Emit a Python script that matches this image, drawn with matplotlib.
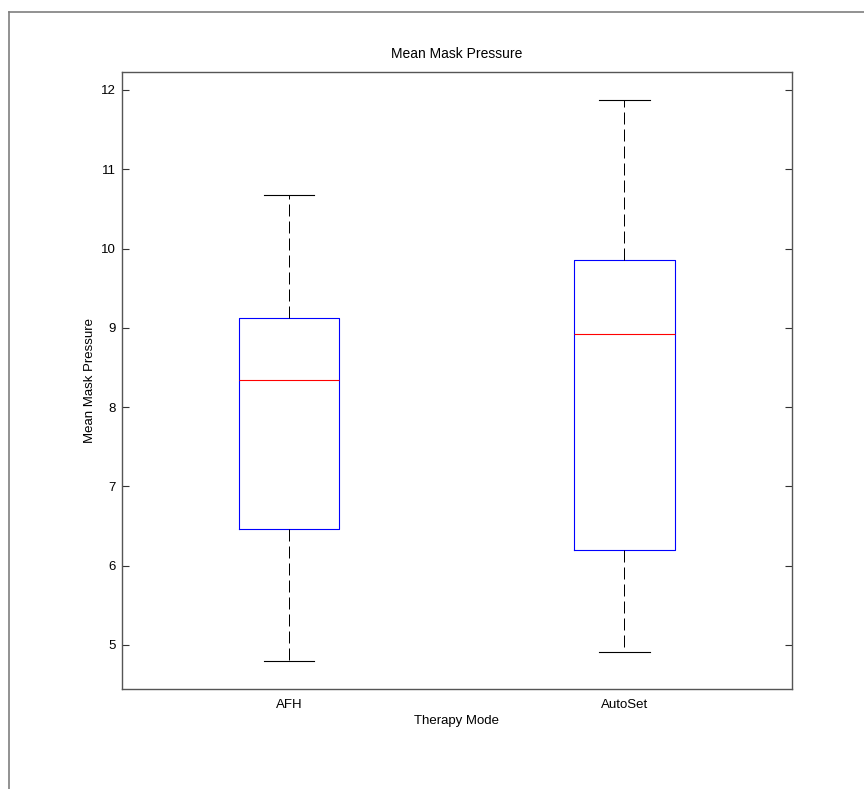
import matplotlib
matplotlib.use("Agg")
import matplotlib.pyplot as plt
from matplotlib.lines import Line2D

# five-number summaries
modes = ["AFH", "AutoSet"]
whisker_low = [4.80, 4.91]
q1 = [6.46, 6.20]
median = [8.34, 8.92]
q3 = [9.13, 9.86]
whisker_high = [10.68, 11.88]
yticks = [5, 6, 7, 8, 9, 10, 11, 12]

plt.rcParams['font.family'] = ['Liberation Sans', 'DejaVu Sans']
plt.rcParams['font.size'] = 9.5

fig = plt.figure(figsize=(8.64, 7.89), dpi=100)
ax = fig.add_axes([121.5 / 864, 1 - 689 / 789, (792 - 121.5) / 864, (689 - 72) / 789])

stats = []
for i, name in enumerate(modes):
    stats.append({"label": name, "whislo": whisker_low[i], "q1": q1[i], "med": median[i],
                  "q3": q3[i], "whishi": whisker_high[i], "fliers": []})

ax.bxp(stats, positions=[1, 2], widths=0.3, showfliers=False,
       boxprops=dict(color="#0000ff", linewidth=0.8),
       medianprops=dict(color="#ff0000", linewidth=0.8),
       whiskerprops=dict(color="black", linewidth=0.72, linestyle=(0, (12, 5))),
       capprops=dict(color="black", linewidth=0.8), capwidths=0.15)

ax.set_xlim(0.5, 2.5)
ax.set_ylim(4.445, 12.227)
ax.set_yticks(yticks)
ax.set_xticks([1, 2])
ax.set_xticklabels(modes)
ax.tick_params(axis='y', direction='in', length=5, width=0.8, color='#333333',
               right=True, pad=4)
ax.tick_params(axis='x', length=0, pad=7)
for s in ax.spines.values():
    s.set_color('#555555')
    s.set_linewidth(1.0)

ax.set_title("Mean Mask Pressure", fontsize=10, pad=10)
ax.set_xlabel("Therapy Mode", labelpad=3)
ax.set_ylabel("Mean Mask Pressure", labelpad=4)

# outer frame of the exported figure window
fig.add_artist(Line2D([8.5 / 864, 8.5 / 864], [0, 1 - 12 / 789], color='#7f7f7f', linewidth=1.2))
fig.add_artist(Line2D([8.5 / 864, 1], [1 - 12 / 789, 1 - 12 / 789], color='#7f7f7f', linewidth=1.2))

fig.savefig("out.png", dpi=100)
